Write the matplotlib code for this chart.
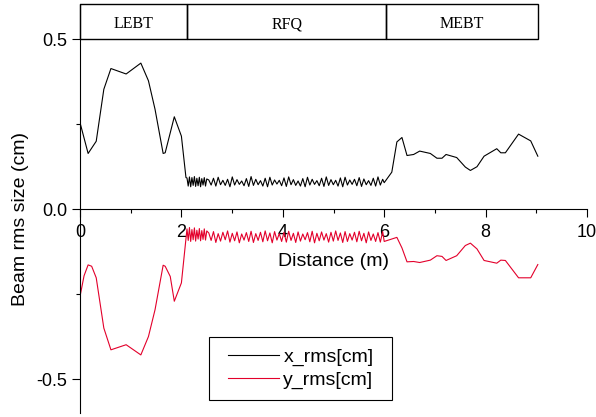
import numpy as np
import matplotlib.pyplot as plt
from matplotlib.patches import Rectangle

# Beam envelope along the line: LEBT, RFQ and MEBT sections
# x_rms in the LEBT
lebt_xr_pos = [0.00, 0.16, 0.32, 0.47, 0.61, 0.91, 1.20, 1.35, 1.48, 1.64, 1.68, 1.86, 2.00, 2.09]
lebt_xr = [0.255, 0.164, 0.200, 0.353, 0.414, 0.398, 0.430, 0.378, 0.294, 0.164, 0.166, 0.272, 0.215, 0.093]
# y_rms in the LEBT (plotted negative)
lebt_yr_pos = [0.00, 0.08, 0.16, 0.23, 0.32, 0.47, 0.61, 0.91, 1.20, 1.35, 1.48, 1.64, 1.68, 1.78, 1.86, 2.00, 2.09]
lebt_yr = [-0.257, -0.196, -0.164, -0.168, -0.202, -0.350, -0.414, -0.399, -0.429, -0.375, -0.296,
           -0.165, -0.168, -0.198, -0.271, -0.217, -0.089]

# RFQ: fast oscillation over the first cells, then the regular focusing period
rfq_xr_start = [0.092, 0.068, 0.095, 0.066, 0.093, 0.070, 0.096, 0.067, 0.091, 0.069, 0.094, 0.066,
                0.090, 0.071, 0.093, 0.068, 0.089]
rfq_xr = [0.086, 0.071, 0.091, 0.068, 0.094, 0.072, 0.085, 0.070, 0.088, 0.066, 0.095, 0.071,
          0.087, 0.073, 0.083, 0.069, 0.090, 0.067, 0.096, 0.070, 0.088, 0.072, 0.084, 0.068,
          0.091, 0.066, 0.094, 0.071, 0.086, 0.074, 0.085, 0.069, 0.092, 0.067, 0.095, 0.072,
          0.087, 0.070, 0.083, 0.068, 0.090, 0.066, 0.094, 0.071, 0.088, 0.073, 0.084, 0.069,
          0.091, 0.067, 0.095, 0.070, 0.087, 0.072, 0.085, 0.068, 0.092, 0.066, 0.094, 0.071,
          0.086, 0.073, 0.088, 0.069, 0.093, 0.067, 0.089, 0.072, 0.084, 0.070, 0.091, 0.068,
          0.095, 0.071, 0.088]
rfq_yr_start = [-0.058, -0.092, -0.054, -0.095, -0.060, -0.090, -0.055, -0.094, -0.062, -0.088,
                -0.057, -0.093, -0.063, -0.089, -0.058, -0.091, -0.064]
rfq_yr = [-0.070, -0.092, -0.066, -0.098, -0.072, -0.094, -0.068, -0.090, -0.064, -0.097, -0.071,
          -0.093, -0.067, -0.099, -0.073, -0.091, -0.069, -0.095, -0.065, -0.098, -0.072, -0.092,
          -0.068, -0.096, -0.064, -0.093, -0.070, -0.099, -0.066, -0.091, -0.072, -0.095, -0.068,
          -0.097, -0.065, -0.092, -0.071, -0.098, -0.067, -0.094, -0.073, -0.090, -0.069, -0.096,
          -0.065, -0.099, -0.071, -0.093, -0.067, -0.091, -0.072, -0.097, -0.068, -0.094, -0.064,
          -0.092, -0.070, -0.098, -0.066, -0.095, -0.072, -0.091, -0.068, -0.096, -0.065, -0.093,
          -0.071, -0.099, -0.067, -0.092, -0.073, -0.095, -0.069, -0.097, -0.066]

# MEBT
mebt_xr_pos = [6.00, 6.15, 6.25, 6.35, 6.45, 6.58, 6.70, 6.91, 7.04, 7.14, 7.22, 7.43, 7.60, 7.70,
               7.83, 7.97, 8.22, 8.30, 8.39, 8.65, 8.89, 9.03]
mebt_xr = [0.078, 0.109, 0.198, 0.211, 0.158, 0.161, 0.171, 0.164, 0.150, 0.150, 0.161, 0.152,
           0.124, 0.114, 0.125, 0.156, 0.178, 0.166, 0.166, 0.221, 0.201, 0.156]
mebt_yr_pos = [6.00, 6.25, 6.35, 6.45, 6.58, 6.70, 6.91, 7.04, 7.14, 7.22, 7.43, 7.60, 7.70, 7.83,
               7.97, 8.22, 8.30, 8.39, 8.65, 8.89, 9.03]
mebt_yr = [-0.095, -0.083, -0.114, -0.155, -0.154, -0.157, -0.150, -0.137, -0.139, -0.151, -0.137,
           -0.107, -0.100, -0.117, -0.151, -0.159, -0.150, -0.151, -0.202, -0.202, -0.163]

sections = ['LEBT', 'RFQ', 'MEBT']
section_edges = [0.0, 2.11, 6.04, 9.04]

# positions of the RFQ samples
rfq_start_pos = np.linspace(2.11, 2.50, len(rfq_xr_start))
rfq_pos = np.linspace(2.54, 5.97, len(rfq_xr))

x_pos = np.concatenate([lebt_xr_pos, rfq_start_pos, rfq_pos, mebt_xr_pos])
x_val = np.concatenate([lebt_xr, rfq_xr_start, rfq_xr, mebt_xr])
y_pos = np.concatenate([lebt_yr_pos, rfq_start_pos, rfq_pos, mebt_yr_pos])
y_val = np.concatenate([lebt_yr, rfq_yr_start, rfq_yr, mebt_yr])

plt.rcParams['font.family'] = ['Liberation Sans', 'DejaVu Sans']

fig = plt.figure(figsize=(5.96, 4.17), dpi=100)
ax = fig.add_axes([80/596, 4/417, 507/596, 409/417])

l1, = ax.plot(x_pos, x_val, color='black', lw=0.8)
l2, = ax.plot(y_pos, y_val, color='#e3002b', lw=0.8)

ax.set_xlim(0, 10)
ax.set_ylim(-0.6, 0.604)

ax.spines['top'].set_visible(False)
ax.spines['right'].set_visible(False)
ax.spines['bottom'].set_position(('data', 0))
for s in ['left', 'bottom']:
    ax.spines[s].set_linewidth(0.8)

ax.set_xticks([0, 2, 4, 6, 8, 10])
ax.set_xticks([1, 3, 5, 7, 9], minor=True)
ax.set_yticks([-0.5, 0.0, 0.5])
ax.set_yticklabels(['-0.5', '0.0', '0.5'])
ax.set_yticks([-0.25, 0.25], minor=True)
ax.tick_params(which='major', direction='out', length=6, width=0.8, labelsize=13)
ax.tick_params(which='minor', direction='out', length=3, width=0.8)
ax.tick_params(axis='x', pad=5)
ax.tick_params(axis='y', pad=3)

ax.set_xlabel('Distance (m)', fontsize=14)
ax.xaxis.set_label_coords(0.5, 0.37)
ax.xaxis.label.set_va('center')
ax.set_ylabel('Beam rms size (cm)', fontsize=14)
ax.yaxis.set_label_coords(-0.10, 0.475)

# section boxes along the top
for name, x0, x1 in zip(sections, section_edges[:-1], section_edges[1:]):
    ax.add_patch(Rectangle((x0, 0.5), x1 - x0, 0.104, fill=False, lw=1.0,
                           edgecolor='black', clip_on=False))
    ax.text((x0 + x1) / 2, 0.545, name, family='Liberation Serif', fontsize=11.5,
            ha='center', va='center')

# legend with a plain square frame
fig.add_artist(Rectangle((209/596, 17/417), 183/596, 63/417, transform=fig.transFigure,
                         fill=False, lw=0.8, edgecolor='black'))
ax.legend([l1, l2], ['x_rms[cm]', 'y_rms[cm]'], loc='center left', frameon=False,
          bbox_to_anchor=(228/596, 48.5/417), bbox_transform=fig.transFigure,
          borderpad=0, borderaxespad=0, handlelength=2.6, handletextpad=0.25,
          labelspacing=0.3, fontsize=14)

fig.savefig('out.png', dpi=100)
